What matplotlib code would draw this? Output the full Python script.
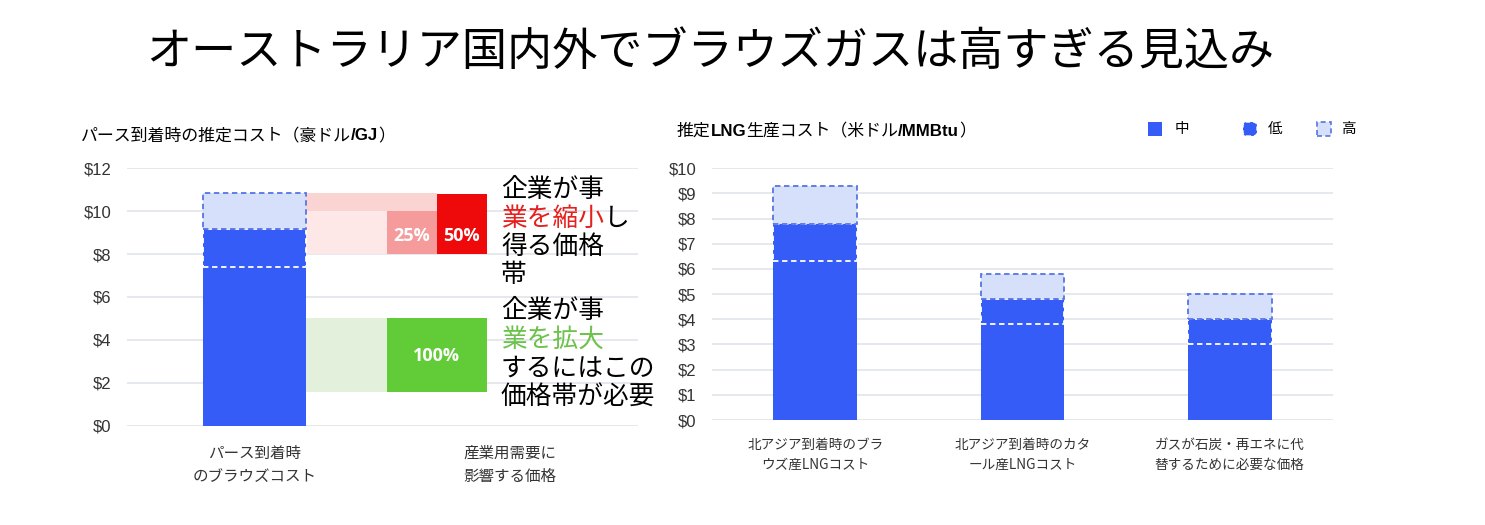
import matplotlib
matplotlib.use("Agg")
import matplotlib.pyplot as plt
from matplotlib.patches import Rectangle, FancyBboxPatch
from matplotlib.transforms import Affine2D

plt.rcParams['font.family'] = ['Noto Sans CJK JP', 'DejaVu Sans']

# ---------------- data ----------------
main_title = "オーストラリア国内外でブラウズガスは高すぎる見込み"

perth_cats = ["パース到着時\nのブラウズコスト", "産業用需要に\n影響する価格"]
perth_low = [7.4]
perth_mid = [9.15]
perth_high = [10.85]

# price bands that affect industrial demand (A$/GJ)
shrink_band = [8.0, 10.85]     # 企業が事業を縮小し得る価格帯
shrink_25 = [8.0, 10.0]
shrink_50 = [8.0, 10.8]
grow_band = [1.55, 5.0]        # 企業が事業を拡大するにはこの価格帯が必要

lng_cats = ["北アジア到着時のブラ\nウズ産LNGコスト",
            "北アジア到着時のカタ\nール産LNGコスト",
            "ガスが石炭・再エネに代\n替するために必要な価格"]
lng_low = [6.3, 3.8, 3.0]
lng_mid = [7.8, 4.8, 4.0]
lng_high = [9.3, 5.8, 5.0]

legend_labels = ["中", "低", "高"]

# ---------------- style ----------------
BLUE = '#355CF7'
LIGHT = '#D6E0FB'
EDGE = '#5775E4'
GRID = '#E3E6EC'
TICK = '#333333'
DASH = (0, (3, 2))

W, H = 1485, 525
fig = plt.figure(figsize=(W / 100, H / 100), dpi=100)
px = Affine2D().scale(1 / W, 1 / H) + fig.transFigure
renderer = fig.canvas.get_renderer()


def ptext(x, y, s, **kw):
    return fig.text(x, H - y, s, transform=px, **kw)


def seq_text(x, y, parts, size):
    # draw text pieces one after another on the same line
    for s, props in parts:
        t = ptext(x, y, s, va='center', fontsize=size, **props)
        x += t.get_window_extent(renderer).width


def stacked(ax, xs, low, mid, high, w):
    ax.bar(xs, low, w, color=BLUE, lw=0, zorder=2)
    ax.bar(xs, [m - l for l, m in zip(low, mid)], w, bottom=low, color=BLUE,
           ec='white', ls=DASH, lw=1.3, zorder=3)
    ax.bar(xs, [h - m for m, h in zip(mid, high)], w, bottom=mid, color=LIGHT,
           ec=EDGE, ls=DASH, lw=1.3, zorder=4)


def style_axis(ax, top, step, xpad):
    for sp in ax.spines.values():
        sp.set_visible(False)
    ax.set_ylim(0, top)
    ticks = list(range(0, top + 1, step))
    ax.set_yticks(ticks)
    ax.set_yticklabels([f"${t}" for t in ticks], family='Liberation Sans', fontsize=12, color=TICK)
    ax.grid(axis='y', color=GRID, lw=1.3)
    ax.set_axisbelow(True)
    ax.tick_params(axis='y', length=0, pad=11)
    ax.tick_params(axis='x', length=0, pad=xpad)


# ---------------- main title ----------------
ptext(710, 52, main_title, ha='center', va='center', fontsize=32.5, color='black')

# ---------------- left chart ----------------
ax1 = fig.add_axes([126.7 / W, 1 - 425.7 / H, (638 - 126.7) / W, (425.7 - 168.3) / H])
style_axis(ax1, 12, 2, 14)
ax1.set_xlim(-0.5, 1.5)
bw = 0.405
stacked(ax1, [0], perth_low, perth_mid, perth_high, bw)
ax1.set_xticks([0, 1])
ax1.set_xticklabels(perth_cats, fontsize=11.2, color='#333333', linespacing=1.45)

edge = bw / 2
b_left, b_mid, b_right = 0.517, 0.713, 0.909
# pink band (two tones) and the 25% / 50% boxes
ax1.bar(edge, shrink_25[1] - shrink_band[0], b_mid - edge, bottom=shrink_band[0],
        align='edge', color='#FDE7E7', lw=0, zorder=2)
ax1.bar(edge, shrink_band[1] - shrink_25[1], b_mid - edge, bottom=shrink_25[1],
        align='edge', color='#FAD3D3', lw=0, zorder=2)
ax1.bar(b_left, shrink_25[1] - shrink_25[0], b_mid - b_left, bottom=shrink_25[0],
        align='edge', color='#F59B9B', lw=0, zorder=3)
ax1.bar(b_mid, shrink_50[1] - shrink_50[0], b_right - b_mid, bottom=shrink_50[0],
        align='edge', color='#EE0A0A', lw=0, zorder=3)
# green band and the 100% box
ax1.bar(edge, grow_band[1] - grow_band[0], b_left - edge, bottom=grow_band[0],
        align='edge', color='#E3F1DC', lw=0, zorder=2)
ax1.bar(b_left, grow_band[1] - grow_band[0], b_right - b_left, bottom=grow_band[0],
        align='edge', color='#62CC38', lw=0, zorder=3)

box_font = dict(family='Open Sans', weight='bold', color='white', fontsize=13,
                ha='center', va='center', zorder=5)
ax1.text((b_left + b_mid) / 2, 8.85, "25%", **box_font)
ax1.text((b_mid + b_right) / 2, 8.85, "50%", **box_font)
ax1.text((b_left + b_right) / 2, 3.25, "100%", **box_font)

# side notes
RED = '#E5201D'
GREEN = '#6CC24A'
note_size = 18.5
x0 = 501
ys1 = [190, 219, 247, 275]
ptext(x0, ys1[0], "企業が事", va='center', fontsize=note_size)
seq_text(x0, ys1[1], [("業を縮小", dict(color=RED)), ("し", dict(color='black'))], note_size)
ptext(x0, ys1[2], "得る価格", va='center', fontsize=note_size)
ptext(x0, ys1[3], "帯", va='center', fontsize=note_size)
ys2 = [311, 340, 369, 398]
ptext(x0, ys2[0], "企業が事", va='center', fontsize=note_size)
ptext(x0, ys2[1], "業を拡大", va='center', fontsize=note_size, color=GREEN)
ptext(x0, ys2[2], "するにはこの", va='center', fontsize=note_size)
ptext(x0, ys2[3], "価格帯が必要", va='center', fontsize=note_size)

bold_latin = dict(family='Liberation Sans', weight='bold')
seq_text(81, 136, [("パース到着時の推定コスト（豪ドル", {}), ("/GJ", bold_latin), ("）", {})], 12.2)

# ---------------- right chart ----------------
ax2 = fig.add_axes([711.7 / W, 1 - 420 / H, (1333.3 - 711.7) / W, (420 - 168.3) / H])
style_axis(ax2, 10, 1, 13)
ax2.set_xlim(-0.5, 2.5)
xs = list(range(len(lng_cats)))
stacked(ax2, xs, lng_low, lng_mid, lng_high, bw)
ax2.set_xticks(xs)
ax2.set_xticklabels(lng_cats, fontsize=9.8, color='#333333', linespacing=1.5)

seq_text(677, 131, [("推定", {}), ("LNG", bold_latin), ("生産コスト（米ドル", {}),
                    ("/MMBtu", bold_latin), ("）", {})], 12.2)

# legend
leg_y = 129
fig.add_artist(Rectangle((1148, H - leg_y - 7), 14, 14, transform=px, color=BLUE, lw=0))
fig.add_artist(FancyBboxPatch((1244, H - leg_y - 6), 12, 12, transform=px,
                              boxstyle="round,pad=1,rounding_size=4",
                              fc=BLUE, ec='white', ls=DASH, lw=1))
fig.add_artist(Rectangle((1317, H - leg_y - 7), 14, 14, transform=px,
                         fc=LIGHT, ec=EDGE, ls=DASH, lw=1.2))
for lx, lab in zip([1175, 1268, 1341], legend_labels):
    ptext(lx, leg_y, lab, va='center', fontsize=10.5)

fig.savefig('out.png', dpi=100, facecolor='white')
